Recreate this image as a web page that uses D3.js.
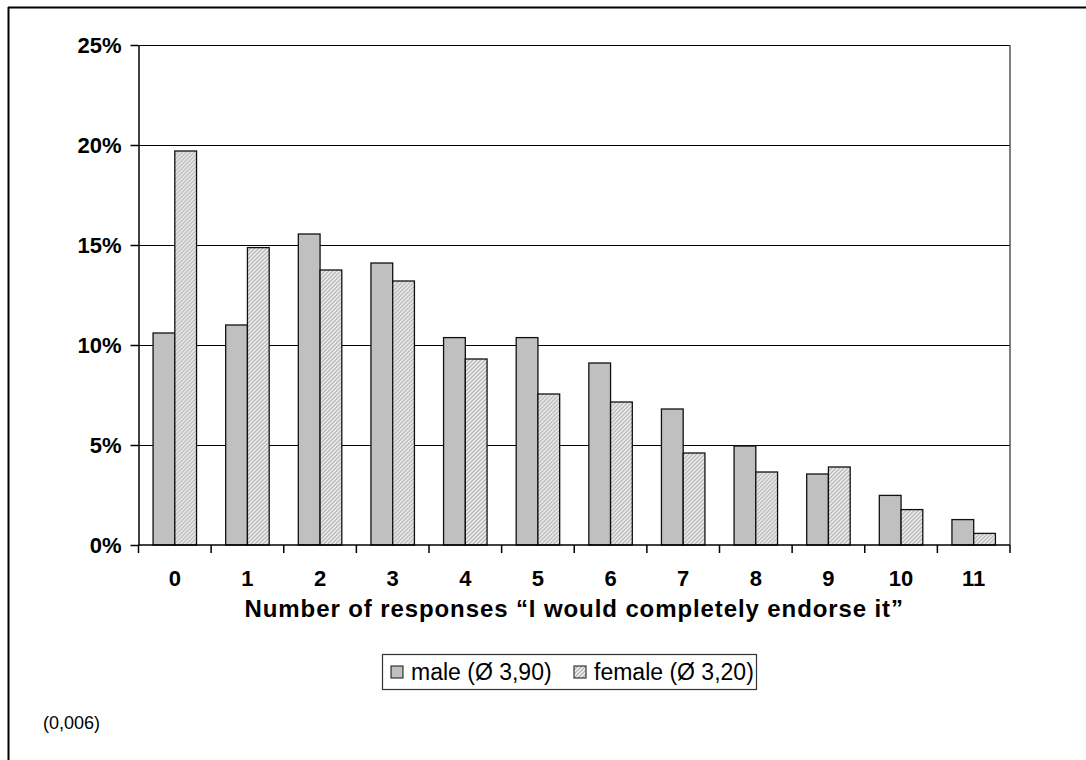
<!DOCTYPE html>
<html>
<head>
<meta charset="utf-8">
<script src="https://cdn.jsdelivr.net/npm/d3@7"></script>
<style>
  body { margin: 0; background: #fff; }
  text { font-family: "Liberation Sans", Arial, sans-serif; }
</style>
</head>
<body>
<script>
let width = 1086;
let height = 760;

// data
let categories = ["0", "1", "2", "3", "4", "5", "6", "7", "8", "9", "10", "11"];
let male = [10.6, 11.0, 15.55, 14.1, 10.37, 10.37, 9.1, 6.8, 4.95, 3.55, 2.48, 1.27];
let female = [19.7, 14.87, 13.75, 13.2, 9.3, 7.55, 7.15, 4.6, 3.65, 3.9, 1.77, 0.58];
let seriesNames = ["male", "female"];
let legendLabels = ["male (Ø 3,90)", "female (Ø 3,20)"];
let yTicks = [0, 5, 10, 15, 20, 25];
let xTitle = "Number of responses “I would completely endorse it”";
let note = "(0,006)";

let margin = {left: 138.5, right: 76, top: 45, bottom: 215};

let svg = d3.select('body')
  .append('svg')
  .attr('width', width)
  .attr('height', height);

// hatch pattern for female
let defs = svg.append("defs");
let hatch = defs.append("pattern")
  .attr("id", "hatch")
  .attr("patternUnits", "userSpaceOnUse")
  .attr("width", 4)
  .attr("height", 4);
hatch.append("rect").attr("width", 4).attr("height", 4).attr("fill", "#f4f4f4");
hatch.append("path")
  .attr("d", "M-1,1 l2,-2 M0,4 l4,-4 M3,5 l2,-2")
  .attr("stroke", "#b4b4b4")
  .attr("stroke-width", 1.4);

// outer frame (only top and left show)
svg.append("line").attr("x1", 8).attr("x2", width).attr("y1", 7.5).attr("y2", 7.5)
  .attr("stroke", "#000").attr("stroke-width", 2);
svg.append("line").attr("x1", 8.5).attr("x2", 8.5).attr("y1", 7).attr("y2", height)
  .attr("stroke", "#000").attr("stroke-width", 2);

let x0 = d3.scaleBand()
  .domain(categories)
  .range([margin.left, width - margin.right]);

let x1 = d3.scaleBand()
  .domain(seriesNames)
  .range([0, x0.bandwidth()])
  .paddingOuter(0.67);

let y = d3.scaleLinear()
  .domain([0, 25])
  .range([height - margin.bottom, margin.top]);

let g = svg.append("g");

// gridlines
g.selectAll(".grid")
  .data(yTicks.slice(1))
  .enter().append("line")
  .attr("x1", margin.left).attr("x2", width - margin.right)
  .attr("y1", d => Math.round(y(d)) + 0.5).attr("y2", d => Math.round(y(d)) + 0.5)
  .attr("stroke", "#000").attr("stroke-width", 1);

// right border of plot area
g.append("line")
  .attr("x1", width - margin.right).attr("x2", width - margin.right)
  .attr("y1", y(25)).attr("y2", y(0))
  .attr("stroke", "#555").attr("stroke-width", 1.5);

// bars
let rows = categories.map((c, i) => ({cat: c, male: male[i], female: female[i]}));
let groups = g.selectAll(".grp")
  .data(rows)
  .enter().append("g")
  .attr("transform", d => "translate(" + x0(d.cat) + ",0)");

groups.selectAll("rect")
  .data(d => seriesNames.map(s => ({key: s, value: d[s]})))
  .enter().append("rect")
  .attr("x", d => x1(d.key))
  .attr("width", x1.bandwidth())
  .attr("y", d => y(d.value))
  .attr("height", d => y(0) - y(d.value))
  .attr("fill", d => d.key === "male" ? "#c0c0c0" : "url(#hatch)")
  .attr("stroke", "#111")
  .attr("stroke-width", 1.3);

// y axis
let yAxis = d3.axisLeft(y)
  .tickValues(yTicks)
  .tickFormat(d => d + "%")
  .tickSizeInner(8)
  .tickSizeOuter(0)
  .tickPadding(9);
let ya = svg.append("g")
  .attr("transform", "translate(" + margin.left + ",0)")
  .call(yAxis);
ya.selectAll("text").style("font-size", "22px").style("font-weight", "bold").attr("fill", "#000");
ya.selectAll("line").attr("stroke", "#000").attr("stroke-width", 1.5);
ya.select(".domain").attr("stroke", "#000").attr("stroke-width", 1.5);

// x axis: ticks between categories
let xa = svg.append("g")
  .attr("transform", "translate(0," + y(0) + ")");
xa.append("line")
  .attr("x1", margin.left).attr("x2", width - margin.right)
  .attr("stroke", "#000").attr("stroke-width", 1.5);
xa.selectAll(".tk")
  .data(categories.map(c => x0(c)).concat([x0.range()[1]]))
  .enter().append("line")
  .attr("x1", d => d).attr("x2", d => d)
  .attr("y1", 0).attr("y2", 8)
  .attr("stroke", "#000").attr("stroke-width", 1.5);
xa.selectAll(".lbl")
  .data(categories)
  .enter().append("text")
  .attr("x", d => x0(d) + x0.bandwidth() / 2)
  .attr("y", 41)
  .attr("text-anchor", "middle")
  .style("font-size", "22px")
  .style("font-weight", "bold")
  .text(d => d);

// axis title
svg.append("text")
  .attr("x", (margin.left + width - margin.right) / 2)
  .attr("y", 617)
  .attr("text-anchor", "middle")
  .style("font-size", "24px")
  .style("font-weight", "bold")
  .style("letter-spacing", "0.9px")
  .text(xTitle);

// legend
let lg = svg.append("g");
lg.append("rect")
  .attr("x", 382.5).attr("y", 654.5)
  .attr("width", 374).attr("height", 35)
  .attr("fill", "#fff").attr("stroke", "#333").attr("stroke-width", 1.2);
let legendX = [391, 574];
seriesNames.forEach((s, i) => {
  lg.append("rect")
    .attr("x", legendX[i]).attr("y", 666)
    .attr("width", 12).attr("height", 12)
    .attr("fill", s === "male" ? "#c0c0c0" : "url(#hatch)")
    .attr("stroke", "#111").attr("stroke-width", 1);
  lg.append("text")
    .attr("x", legendX[i] + 20).attr("y", 680)
    .style("font-size", "23px")
    .text(legendLabels[i]);
});

// note
svg.append("text")
  .attr("x", 43).attr("y", 729)
  .style("font-size", "18px")
  .text(note);
</script>
</body>
</html>
